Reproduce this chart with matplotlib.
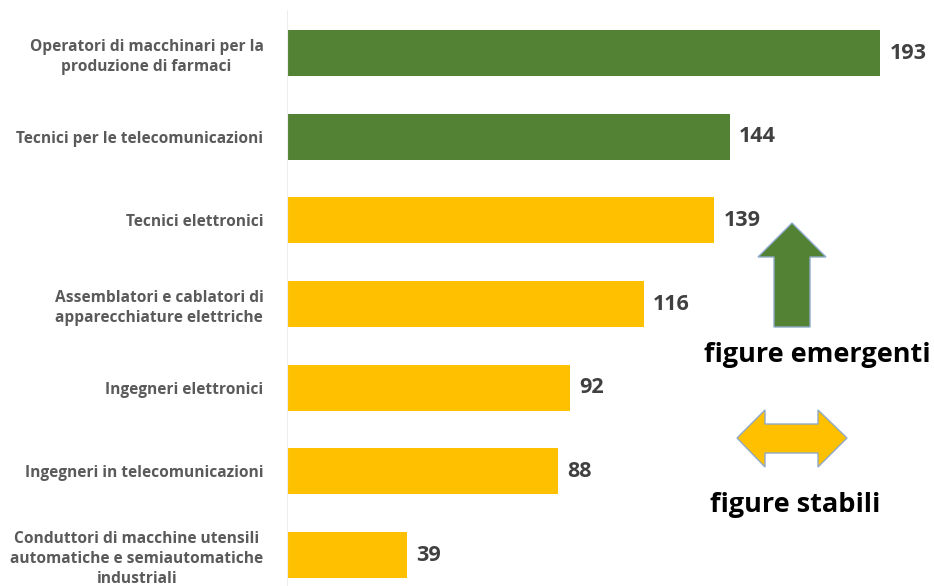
import matplotlib.pyplot as plt
from matplotlib.patches import Polygon

# occupational figures, top to bottom
labels = [
    "Operatori di macchinari per la\nproduzione di farmaci",
    "Tecnici per le telecomunicazioni",
    "Tecnici elettronici",
    "Assemblatori e cablatori di\napparecchiature elettriche",
    "Ingegneri elettronici",
    "Ingegneri in telecomunicazioni",
    "Conduttori di macchine utensili\nautomatiche e semiautomatiche\nindustriali",
]
values = [193, 144, 139, 116, 92, 88, 39]
groups = ["emergenti", "emergenti", "stabili", "stabili", "stabili", "stabili", "stabili"]

GREEN = "#548235"
YELLOW = "#FFC000"
colors = [GREEN if g == "emergenti" else YELLOW for g in groups]

plt.rcParams['font.family'] = ['Open Sans', 'DejaVu Sans']

W, H = 934, 586
fig = plt.figure(figsize=(W / 100, H / 100), dpi=100)
ax = fig.add_axes([287 / W, 0, 1 - 287 / W, 1 - 10 / H])

pos = list(range(len(values)))
ax.barh(pos, values, height=0.55, color=colors)
for p, v in zip(pos, values):
    ax.text(v + 3, p, str(v), va='center', ha='left', fontsize=15.5,
            fontweight='bold', color='#404040')

ax.set_xlim(0, 210.4)
ax.set_ylim(6.37, -0.514)
ax.set_yticks(pos)
ax.set_yticklabels(labels, fontsize=11.2, fontweight='bold', color='#5a5a5a',
                   multialignment='center', linespacing=1.33)
ax.tick_params(axis='y', length=0, pad=17)
ax.set_xticks([])
for s in ['top', 'right', 'bottom']:
    ax.spines[s].set_visible(False)
ax.spines['left'].set_color('#eeeeee')

# legend-like arrows drawn in figure pixel space
def px(points):
    return [(x / W, 1 - y / H) for x, y in points]

up = px([(792, 223), (826, 257), (810, 257), (810, 327), (774, 327),
         (774, 257), (758, 257)])
fig.patches.append(Polygon(up, closed=True, facecolor=GREEN, edgecolor='#8fa9c8',
                           linewidth=1, transform=fig.transFigure))
both = px([(737, 438), (765, 410), (765, 424), (818, 424), (818, 410), (847, 438),
           (818, 467), (818, 453), (765, 453), (765, 467)])
fig.patches.append(Polygon(both, closed=True, facecolor=YELLOW, edgecolor='#8fa9c8',
                           linewidth=1, transform=fig.transFigure))

fig.text(817 / W, 1 - 355 / H, "figure emergenti", ha='center', va='center',
         fontsize=19.5, fontweight='bold', color='black')
fig.text(795 / W, 1 - 505 / H, "figure stabili", ha='center', va='center',
         fontsize=19.5, fontweight='bold', color='black')

fig.savefig("out.png", dpi=100)
